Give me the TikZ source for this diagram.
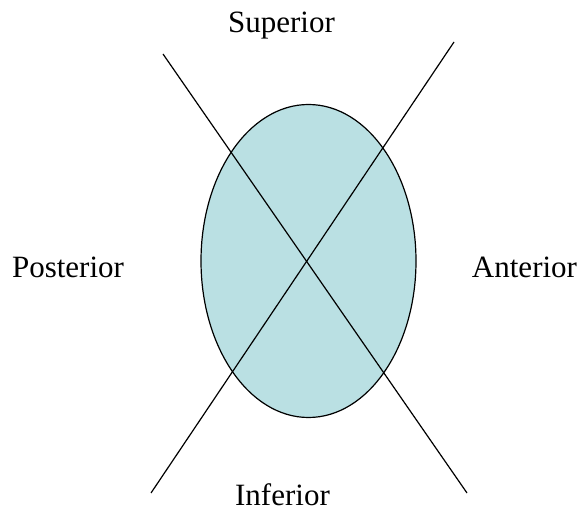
\documentclass[tikz,border=0pt]{standalone}
\usepackage{fontspec}
\setmainfont{Liberation Serif}
\definecolor{fillblue}{RGB}{186,224,227}
\begin{document}
\begin{tikzpicture}[x=1pt,y=-1pt,
  lbl/.style={anchor=base,inner sep=0pt,font=\fontsize{31}{36}\selectfont},
  axis/.style={line width=1.2pt,black}]
\useasboundingbox (0,0) rectangle (581,510);
\fill[fillblue] (308.5,261) ellipse [x radius=107.5,y radius=156.5];
\draw[line width=1.2pt] (308.5,261) ellipse [x radius=107.5,y radius=156.5];
\coordinate (a1) at (163,54);
\coordinate (a2) at (467,493);
\coordinate (b1) at (454,42);
\coordinate (b2) at (151,493);
\draw[axis] (a1) -- (a2);
\draw[axis] (b1) -- (b2);
\node[lbl] (sup) at (281.5,33) {Superior};
\node[lbl] (inf) at (282.5,505.5) {Inferior};
\node[lbl] (post) at (68,277.3) {Posterior};
\node[lbl] (ant) at (524.5,277.3) {Anterior};
\end{tikzpicture}
\end{document}
